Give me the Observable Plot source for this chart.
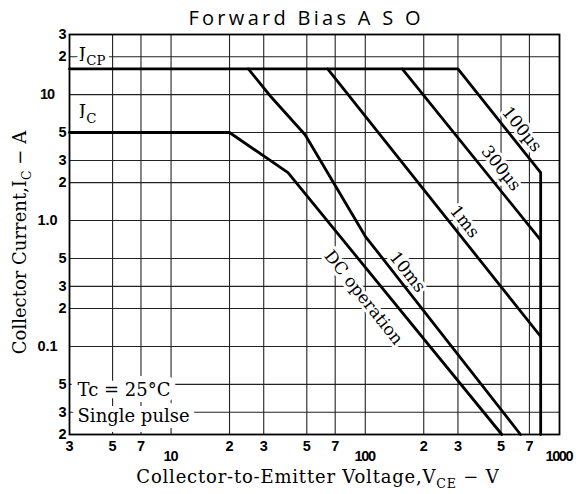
<!DOCTYPE html>
<html><head><meta charset="utf-8">
<script src="https://cdn.jsdelivr.net/npm/d3@7"></script>
<script src="https://cdn.jsdelivr.net/npm/@observablehq/plot@0.6"></script>
<style>body{margin:0;background:#fff;}</style>
</head><body><div id="chart"></div>
<script>
// Axis ticks and labels
const xTicks = [3, 5, 7, 10, 20, 30, 50, 70, 100, 200, 300, 500, 700, 1000];
const xTickLabels = ["3","5","7","10","2","3","5","7","100","2","3","5","7","1000"];
const yTicks = [0.02, 0.03, 0.05, 0.1, 0.2, 0.3, 0.5, 1, 2, 3, 5, 10, 20, 30];
const yTickLabels = ["2","3","5","0.1","2","3","5","1.0","2","3","5","10","2","3"];
const xGrid = [5, 7, 10, 20, 30, 50, 70, 100, 200, 300, 500, 700];
const yGrid = [0.03, 0.05, 0.1, 0.2, 0.3, 0.5, 1, 2, 3, 5, 10, 20];

// Curves (V, A)
const dcV = [3, 20, 40, 505];
const dcA = [5, 5, 2.4, 0.02];
const ms10V = [25, 32.5, 49, 100, 630];
const ms10A = [16, 9.7, 4.8, 0.75, 0.02];
const ms1V = [64, 800];
const ms1A = [16, 0.12];
const us300V = [155, 800];
const us300A = [16, 0.7];
const us100V = [3, 300, 800, 800];
const us100A = [16, 16, 2.4, 0.02];

// Curve labels
const curveLabels = ["100µs", "300µs", "1ms", "10ms", "DC operation"];
const curveLabelV = [640, 500, 325, 165, 98];
const curveLabelA = [5.3, 2.6, 0.98, 0.39, 0.245];

// Other annotations
const noteLabels = ["I_{CP}", "I_{C}", "Tc = 25°C", "Single pulse"];
const noteV = [3.35, 3.35, 3.3, 3.3];
const noteA = [20.8, 7.3, 0.045, 0.0278];

const titleText = "Forward Bias A S O";
const xTitle = "Collector-to-Emitter Voltage,V_{CE} − V";
const yTitle = "Collector Current,I_{C} − A";

const rows = (xs, ys) => xs.map((v, i) => ({v, a: ys[i]}));
const idx = (arr) => arr.map((_, i) => i);

const serif = "DejaVu Serif";
const sans = "Liberation Sans";
const lineStyle = {x: "v", y: "a", stroke: "black", strokeWidth: 2.8, strokeLinejoin: "miter"};

const xSingle = idx(xTicks).filter(i => xTickLabels[i].length === 1);
const xDecade = idx(xTicks).filter(i => xTickLabels[i].length > 1);
const ySingle = idx(yTicks).filter(i => yTickLabels[i].length === 1);
const yMulti = idx(yTicks).filter(i => yTickLabels[i].length > 1);

const chart = Plot.plot({
  width: 576, height: 494,
  marginLeft: 69, marginRight: 17, marginTop: 34, marginBottom: 60,
  x: {type: "log", domain: [3, 1000], axis: null},
  y: {type: "log", domain: [0.02, 30], axis: null},
  style: {background: "white"},
  marks: [
    Plot.ruleX(xGrid, {stroke: "#222", strokeWidth: 1.1}),
    Plot.ruleY(yGrid, {stroke: "#222", strokeWidth: 1.1}),
    Plot.frame({stroke: "black", strokeWidth: 1.8}),
    // annotations with white halo (cover gridlines)
    Plot.text(idx(noteLabels).slice(0, 2), {x: i => noteV[i], y: i => noteA[i], text: i => noteLabels[i],
      textAnchor: "start", lineAnchor: "middle", fontFamily: serif, fontSize: 19, fill: "black", stroke: "white", strokeWidth: 8}),
    Plot.text(idx(noteLabels).slice(2), {x: i => noteV[i], y: i => noteA[i], text: i => noteLabels[i],
      textAnchor: "start", lineAnchor: "middle", fontFamily: serif, fontSize: 18, fill: "black", stroke: "white", strokeWidth: 12}),
    Plot.text(idx(curveLabels), {x: i => curveLabelV[i], y: i => curveLabelA[i], text: i => curveLabels[i],
      rotate: 51.5, lineAnchor: "middle", fontFamily: serif, fontSize: 17, fill: "black", stroke: "white", strokeWidth: 6}),
    // curves
    Plot.line(rows(dcV, dcA), lineStyle),
    Plot.line(rows(ms10V, ms10A), lineStyle),
    Plot.line(rows(ms1V, ms1A), lineStyle),
    Plot.line(rows(us300V, us300A), lineStyle),
    Plot.line(rows(us100V, us100A), lineStyle),
    // tick labels
    Plot.text(xSingle, {x: i => xTicks[i], text: i => xTickLabels[i], frameAnchor: "bottom", lineAnchor: "middle", dy: 12,
      fontFamily: sans, fontWeight: "bold", fontSize: 14.5, fill: "black"}),
    Plot.text(xDecade, {x: i => xTicks[i], text: i => xTickLabels[i], frameAnchor: "bottom", lineAnchor: "middle", dy: 22,
      fontFamily: sans, fontWeight: "bold", fontSize: 14.5, fill: "black"}),
    Plot.text(ySingle, {y: i => yTicks[i], text: i => yTickLabels[i], frameAnchor: "left", textAnchor: "end", lineAnchor: "middle", dx: -3,
      fontFamily: sans, fontWeight: "bold", fontSize: 14.5, fill: "black"}),
    Plot.text(yMulti, {y: i => yTicks[i], text: i => yTickLabels[i], frameAnchor: "left", textAnchor: "middle", lineAnchor: "middle", dx: -22,
      fontFamily: sans, fontWeight: "bold", fontSize: 14.5, fill: "black"}),
    // titles
    Plot.text([titleText], {frameAnchor: "top", textAnchor: "middle", lineAnchor: "middle", dx: -10, dy: -16,
      fontFamily: "Open Sans", fontSize: 20, fill: "black"}),
    Plot.text([xTitle], {frameAnchor: "bottom", textAnchor: "middle", lineAnchor: "middle", dx: 3, dy: 43,
      fontFamily: serif, fontSize: 18, fill: "black"}),
    Plot.text([yTitle], {frameAnchor: "left", textAnchor: "middle", lineAnchor: "middle", rotate: -90, dx: -49, dy: 8,
      fontFamily: serif, fontSize: 18, fill: "black"})
  ]
});

// letter spacing for some texts (Plot's text mark has no option for it)
const spacingFor = new Map([[titleText, 3.3], [xTitle, 0.8], ["10", -1.2], ["100", -1.2], ["1000", -1.4]]);
chart.querySelectorAll("text").forEach(t => {
  const s = spacingFor.get(t.textContent);
  if (s !== undefined) {
    t.setAttribute("letter-spacing", s);
    const dx = parseFloat(t.getAttribute("dx") || 0);
    t.setAttribute("dx", dx + s / 2);
  }
});

function applySubscripts(svg) {
  const ns = "http://www.w3.org/2000/svg";
  svg.querySelectorAll("text").forEach(t => {
    const s = t.textContent;
    if (!s.includes("_{")) return;
    const fs = parseFloat(getComputedStyle(t).fontSize) || 16;
    const shift = 0.25 * fs;
    while (t.firstChild) t.removeChild(t.firstChild);
    const re = /_\{([^}]*)\}/g;
    let last = 0, m, pendingUp = false;
    const add = (txt, attrs) => {
      const sp = document.createElementNS(ns, "tspan");
      sp.textContent = txt;
      for (const k in attrs) sp.setAttribute(k, attrs[k]);
      t.appendChild(sp);
    };
    while ((m = re.exec(s))) {
      if (m.index > last) add(s.slice(last, m.index), pendingUp ? {dy: -shift} : {});
      pendingUp = false;
      add(m[1], {dy: shift, "font-size": (fs * 0.7) + "px"});
      pendingUp = true;
      last = re.lastIndex;
    }
    if (last < s.length) add(s.slice(last), pendingUp ? {dy: -shift} : {});
  });
}

document.getElementById("chart").appendChild(chart);
applySubscripts(chart);
</script>
</body></html>
